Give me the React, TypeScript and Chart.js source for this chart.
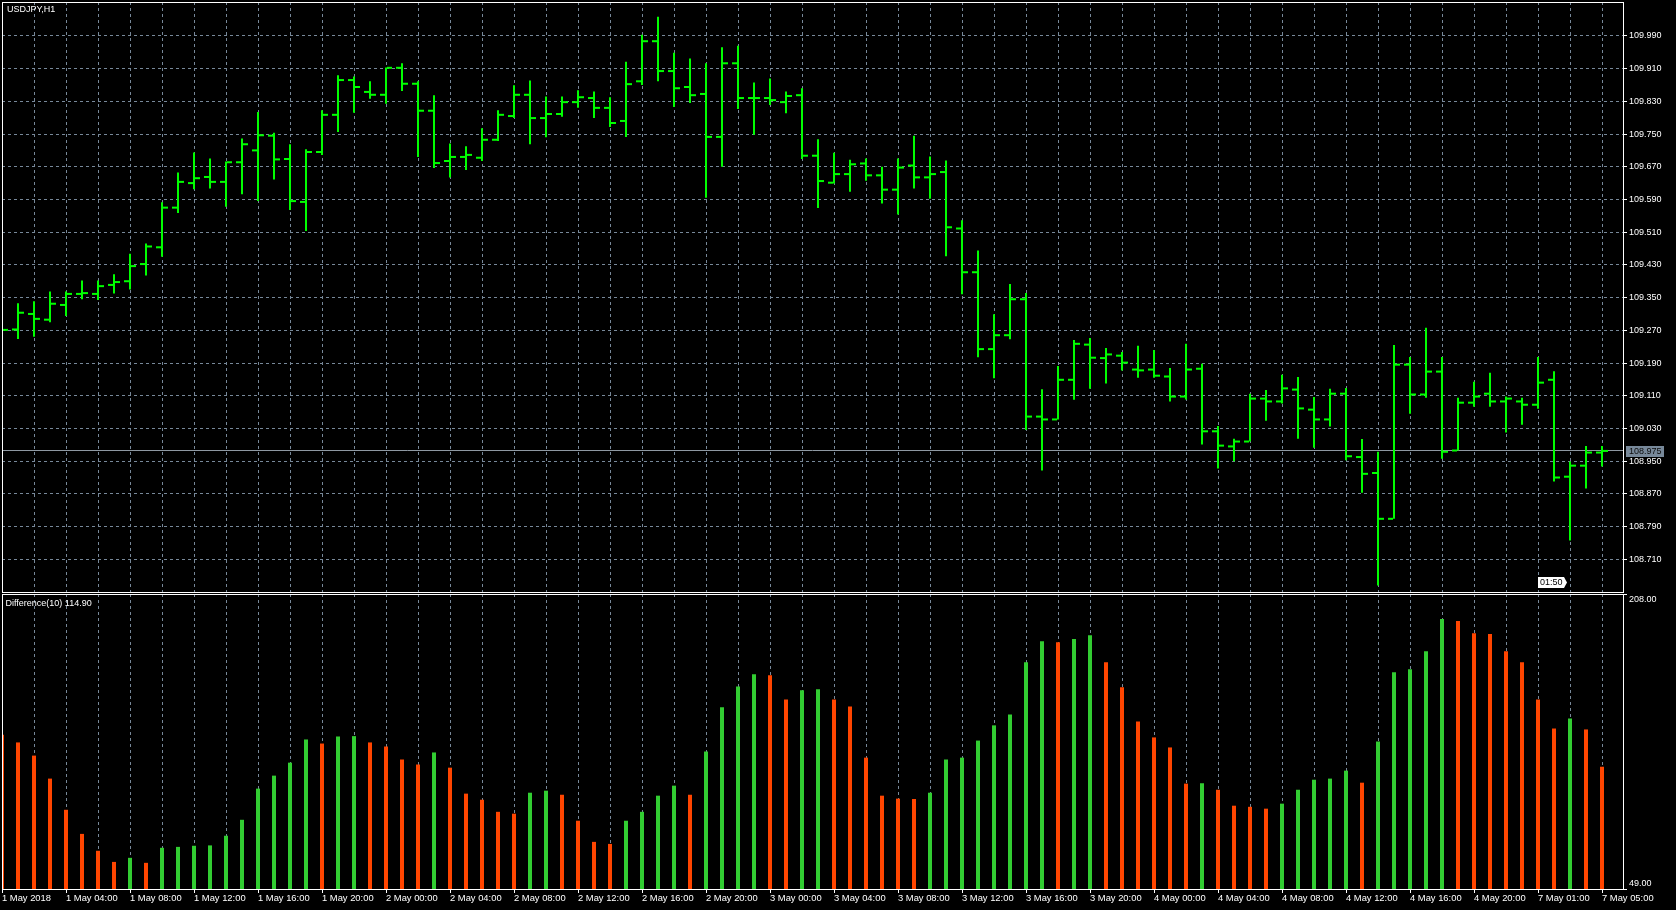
import React, { useEffect, useRef } from "react";
import { Chart, registerables } from "chart.js";

Chart.register(...registerables);

const symbolTitle = "USDJPY,H1";
const indicatorTitle = "Difference(10) 114.90";
const countdownText = "01:50";
const bidPrice = 108.975;

const opens = [
  109.262, 109.272, 109.31, 109.296, 109.332, 109.359, 109.359, 109.381, 109.39, 109.432,
  109.473, 109.57, 109.63, 109.645, 109.633, 109.681, 109.71, 109.746, 109.689, 109.584,
  109.706, 109.797, 109.882, 109.853, 109.846, 109.912, 109.873, 109.807, 109.684, 109.694,
  109.692, 109.736, 109.794, 109.846, 109.789, 109.799, 109.828, 109.838, 109.814, 109.782,
  109.879, 109.977, 109.904, 109.865, 109.848, 109.743, 109.923, 109.838, 109.838, 109.828,
  109.845, 109.697, 109.631, 109.652, 109.678, 109.649, 109.614, 109.673, 109.644, 109.657,
  109.519, 109.412, 109.224, 109.258, 109.346, 109.059, 109.052, 109.149, 109.235, 109.202,
  109.208, 109.174, 109.174, 109.157, 109.108, 109.176, 109.023, 108.986, 108.998, 109.103,
  109.096, 109.125, 109.076, 109.052, 109.115, 108.96, 108.921, 108.809, 109.186, 109.113,
  109.169, 108.976, 109.093, 109.115, 109.096, 109.096, 109.088, 109.149, 108.912, 108.939,
  108.971,
];
const highs = [
  109.285, 109.336, 109.341, 109.365, 109.365, 109.392, 109.392, 109.407, 109.457, 109.482,
  109.583, 109.656, 109.705, 109.69, 109.683, 109.739, 109.804, 109.753, 109.725, 109.713,
  109.808, 109.894, 109.891, 109.879, 109.913, 109.923, 109.879, 109.845, 109.727, 109.72,
  109.764, 109.808, 109.869, 109.881, 109.842, 109.842, 109.857, 109.854, 109.84, 109.927,
  109.993, 110.037, 109.949, 109.935, 109.923, 109.962, 109.966, 109.876, 109.886, 109.854,
  109.862, 109.737, 109.704, 109.687, 109.69, 109.67, 109.69, 109.746, 109.695, 109.685,
  109.539, 109.465, 109.309, 109.383, 109.361, 109.126, 109.183, 109.246, 109.251, 109.227,
  109.217, 109.232, 109.222, 109.178, 109.237, 109.188, 109.036, 109.005, 109.115, 109.124,
  109.161, 109.156, 109.107, 109.127, 109.129, 109.004, 108.973, 109.234, 109.205, 109.276,
  109.205, 109.105, 109.144, 109.166, 109.108, 109.105, 109.205, 109.17, 108.949, 108.987,
  108.987,
];
const lows = [
  109.255, 109.249, 109.254, 109.29, 109.305, 109.346, 109.344, 109.36, 109.37, 109.404,
  109.45, 109.557, 109.615, 109.617, 109.572, 109.603, 109.586, 109.639, 109.564, 109.513,
  109.699, 109.755, 109.802, 109.836, 109.824, 109.855, 109.694, 109.667, 109.644, 109.662,
  109.684, 109.733, 109.789, 109.725, 109.742, 109.792, 109.814, 109.789, 109.767, 109.743,
  109.87, 109.879, 109.816, 109.826, 109.594, 109.67, 109.811, 109.748, 109.821, 109.801,
  109.689, 109.569, 109.629, 109.609, 109.636, 109.58, 109.553, 109.617, 109.592, 109.451,
  109.358, 109.204, 109.153, 109.248, 109.026, 108.927, 109.052, 109.1, 109.127, 109.14,
  109.172, 109.154, 109.154, 109.096, 109.101, 108.991, 108.932, 108.95, 108.998, 109.049,
  109.091, 109.005, 108.983, 109.035, 108.952, 108.873, 108.646, 108.809, 109.066, 109.105,
  108.956, 108.976, 109.083, 109.083, 109.02, 109.039, 109.078, 108.9, 108.756, 108.883,
  108.937,
];
const closes = [
  109.271, 109.313, 109.298, 109.335, 109.359, 109.361, 109.378, 109.388, 109.427, 109.475,
  109.57, 109.633, 109.642, 109.633, 109.681, 109.725, 109.747, 109.688, 109.586, 109.706,
  109.797, 109.882, 109.865, 109.846, 109.912, 109.873, 109.807, 109.679, 109.694, 109.699,
  109.736, 109.797, 109.846, 109.789, 109.799, 109.828, 109.84, 109.814, 109.777, 109.872,
  109.977, 109.904, 109.862, 109.845, 109.743, 109.923, 109.838, 109.838, 109.833, 109.843,
  109.697, 109.635, 109.652, 109.676, 109.649, 109.614, 109.668, 109.644, 109.652, 109.522,
  109.412, 109.224, 109.258, 109.346, 109.059, 109.052, 109.149, 109.237, 109.203, 109.211,
  109.191, 109.172, 109.159, 109.108, 109.174, 109.023, 108.988, 108.998, 109.103, 109.096,
  109.128, 109.079, 109.052, 109.115, 108.962, 108.919, 108.809, 109.186, 109.113, 109.169,
  108.973, 109.093, 109.108, 109.096, 109.103, 109.088, 109.142, 108.91, 108.939, 108.971,
  108.975,
];

const diffValues = [
  132.1, 128.0, 120.9, 108.5, 91.7, 78.7, 69.6, 63.6, 65.8, 63.1,
  71.2, 71.7, 72.3, 72.5, 77.7, 86.3, 103.1, 110.1, 117.1, 129.6,
  127.4, 131.2, 131.4, 128.0, 125.8, 118.8, 116.1, 122.6, 114.4, 100.4,
  97.1, 90.6, 89.6, 100.9, 102.0, 99.8, 85.8, 74.4, 73.3, 85.8,
  90.6, 99.3, 104.7, 99.8, 123.1, 146.9, 158.2, 164.7, 164.2, 151.2,
  156.1, 156.6, 151.2, 147.4, 119.8, 99.3, 97.7, 97.5, 100.9, 118.8,
  119.8, 129.0, 137.2, 143.1, 171.2, 182.6, 182.0, 183.7, 185.8, 171.2,
  157.7, 139.3, 130.7, 125.3, 105.8, 106.0, 102.5, 93.9, 93.3, 92.3,
  95.0, 102.5, 107.9, 108.5, 112.8, 106.3, 128.5, 165.8, 167.4, 177.2,
  194.5, 193.4, 186.9, 186.4, 177.2, 171.2, 151.2, 135.5, 140.9, 135.0,
  114.9,
];

const timeLabels = [
  "1 May 2018", "1 May 04:00", "1 May 08:00", "1 May 12:00", "1 May 16:00", "1 May 20:00",
  "2 May 00:00", "2 May 04:00", "2 May 08:00", "2 May 12:00", "2 May 16:00", "2 May 20:00",
  "3 May 00:00", "3 May 04:00", "3 May 08:00", "3 May 12:00", "3 May 16:00", "3 May 20:00",
  "4 May 00:00", "4 May 04:00", "4 May 08:00", "4 May 12:00", "4 May 16:00", "4 May 20:00",
  "7 May 01:00", "7 May 05:00",
];

const priceTicks = [
  108.71, 108.79, 108.87, 108.95, 109.03, 109.11, 109.19, 109.27, 109.35,
  109.43, 109.51, 109.59, 109.67, 109.75, 109.83, 109.91, 109.99,
];
const diffTicks = [49, 208];

const PRICE_MIN = 108.63;
const PRICE_MAX = 110.0729;
const DIFF_MIN = 49;
const DIFF_MAX = 208;
const X_MIN = 0;
const X_MAX = 101.3125;
const LABEL_EVERY = 4;
const GRID_EVERY = 2;

const FONT = "'Liberation Sans', Arial, sans-serif";
const BAR_GREEN = "#00ff00";
const HIST_UP = "#32cd32";
const HIST_DOWN = "#ff4500";
const GRID = "#778899";
const TICK_HALF = 0.00245;

export default function App() {
  const topRef = useRef<HTMLCanvasElement>(null);
  const botRef = useRef<HTMLCanvasElement>(null);

  useEffect(() => {
    document.body.style.margin = "0";
    document.body.style.background = "#000";
    Chart.defaults.font.family = FONT;

    const idx = opens.map((_, i) => i);
    const gridValues = idx.filter((i) => i % GRID_EVERY === 0);

    const frameOf = (chart: any) => {
      const { ctx, chartArea: a } = chart;
      ctx.save();
      ctx.strokeStyle = "#ffffff";
      ctx.lineWidth = 1;
      ctx.strokeRect(a.left + 0.5, a.top + 0.5, a.right - a.left, a.bottom - a.top);
      ctx.restore();
    };

    const topOverlay = {
      id: "topOverlay",
      beforeDatasetsDraw(chart: any) {
        const { ctx, chartArea: a, scales } = chart;
        const yb = Math.floor(scales.y.getPixelForValue(bidPrice)) + 0.5;
        ctx.save();
        ctx.strokeStyle = "#8e98a2";
        ctx.lineWidth = 1;
        ctx.beginPath();
        ctx.moveTo(a.left, yb);
        ctx.lineTo(a.right, yb);
        ctx.stroke();
        ctx.restore();
      },
      afterDraw(chart: any) {
        const { ctx, chartArea: a, scales } = chart;
        frameOf(chart);
        ctx.save();
        ctx.font = `9px ${FONT}`;
        ctx.textBaseline = "middle";
        ctx.fillStyle = "#ffffff";
        ctx.fillText(symbolTitle, a.left + 5, a.top + 7.5);
        // bid label
        const yb = scales.y.getPixelForValue(bidPrice);
        ctx.fillStyle = "#778899";
        ctx.fillRect(a.right + 3, Math.round(yb) - 5, 38, 11);
        ctx.fillStyle = "#0c0c0c";
        ctx.fillText(bidPrice.toFixed(3), a.right + 6, Math.round(yb) + 0.5);
        // countdown
        const bx = a.right - 85;
        const by = a.bottom - 15;
        ctx.fillStyle = "#ffffff";
        ctx.beginPath();
        ctx.moveTo(bx, by);
        ctx.lineTo(bx + 26, by);
        ctx.lineTo(bx + 29, by + 5.5);
        ctx.lineTo(bx + 26, by + 11);
        ctx.lineTo(bx, by + 11);
        ctx.closePath();
        ctx.fill();
        ctx.fillStyle = "#000000";
        ctx.fillText(countdownText, bx + 2, by + 6);
        ctx.restore();
      },
    };

    const botOverlay = {
      id: "botOverlay",
      afterDraw(chart: any) {
        const { ctx, chartArea: a, scales } = chart;
        frameOf(chart);
        ctx.save();
        ctx.font = `9px ${FONT}`;
        ctx.textBaseline = "middle";
        ctx.fillStyle = "#ffffff";
        ctx.fillText(indicatorTitle, a.left + 3.5, a.top + 9.5);
        const yTop = scales.y.getPixelForValue(DIFF_MAX);
        const yBot = scales.y.getPixelForValue(DIFF_MIN);
        ctx.fillText(DIFF_MAX.toFixed(2), a.right + 6, yTop + 5.3);
        ctx.fillText(DIFF_MIN.toFixed(2), a.right + 6, yBot - 5.3);
        ctx.restore();
      },
    };

    const ohlcCommon = {
      backgroundColor: BAR_GREEN,
      borderWidth: 0,
      inflateAmount: 0,
      categoryPercentage: 0.65625,
    };

    const top = new Chart(topRef.current as HTMLCanvasElement, {
      type: "bar",
      data: {
        datasets: [
          {
            ...ohlcCommon,
            label: "Open",
            barPercentage: 5 / 3.5,
            data: idx.map((i) => ({ x: i, y: [opens[i] - TICK_HALF, opens[i] + TICK_HALF] })),
          },
          {
            ...ohlcCommon,
            label: "High-Low",
            barPercentage: 2 / 3.5,
            data: idx.map((i) => ({ x: i, y: [lows[i], highs[i]] })),
          },
          {
            ...ohlcCommon,
            label: "Close",
            barPercentage: 5 / 3.5,
            data: idx.map((i) => ({ x: i, y: [closes[i] - TICK_HALF, closes[i] + TICK_HALF] })),
          },
        ] as any,
      },
      options: {
        responsive: false,
        animation: false,
        devicePixelRatio: 1,
        events: [],
        layout: { padding: { left: 2, top: 2, right: 0, bottom: 2 } },
        plugins: { legend: { display: false }, tooltip: { enabled: false } },
        scales: {
          x: {
            type: "linear",
            min: X_MIN,
            max: X_MAX,
            offset: false,
            stacked: false,
            afterBuildTicks: (s: any) => {
              s.ticks = gridValues.map((v) => ({ value: v }));
            },
            afterFit: (s: any) => {
              s.height = 0;
              s.paddingLeft = 0;
              s.paddingRight = 0;
            },
            ticks: { display: false },
            grid: { color: GRID, lineWidth: 1, drawTicks: false, offset: false },
            border: { display: false, dash: [3, 3] },
          },
          y: {
            position: "right",
            min: PRICE_MIN,
            max: PRICE_MAX,
            afterBuildTicks: (s: any) => {
              s.ticks = priceTicks.map((v) => ({ value: v }));
            },
            afterFit: (s: any) => {
              s.width = 53;
              s.paddingTop = 0;
              s.paddingBottom = 0;
            },
            ticks: {
              color: "#ffffff",
              font: { size: 9, family: FONT },
              padding: 2,
              callback: (v: any) => Number(v).toFixed(3),
            },
            grid: {
              color: GRID,
              lineWidth: 1,
              drawTicks: true,
              tickLength: 4,
              tickColor: "#ffffff",
              tickWidth: 1,
            },
            border: { display: false, dash: [3, 3] },
          },
        },
      } as any,
      plugins: [topOverlay],
    });

    const bot = new Chart(botRef.current as HTMLCanvasElement, {
      type: "bar",
      data: {
        datasets: [
          {
            label: "Difference(10)",
            data: idx.map((i) => ({ x: i, y: diffValues[i] })),
            backgroundColor: idx.map((i) =>
              i > 0 && diffValues[i] >= diffValues[i - 1] ? HIST_UP : HIST_DOWN
            ),
            borderWidth: 0,
            inflateAmount: 0,
            barThickness: 4,
          },
        ] as any,
      },
      options: {
        responsive: false,
        animation: false,
        devicePixelRatio: 1,
        events: [],
        layout: { padding: { left: 2, top: 2, right: 0, bottom: 0 } },
        plugins: { legend: { display: false }, tooltip: { enabled: false } },
        scales: {
          x: {
            type: "linear",
            min: X_MIN,
            max: X_MAX,
            offset: false,
            stacked: false,
            afterBuildTicks: (s: any) => {
              s.ticks = gridValues.map((v) => ({ value: v }));
            },
            afterFit: (s: any) => {
              s.height = 21;
              s.paddingLeft = 0;
              s.paddingRight = 0;
            },
            ticks: {
              color: "#ffffff",
              font: { size: 9.4, family: FONT },
              padding: 0,
              align: "start",
              autoSkip: false,
              maxRotation: 0,
              minRotation: 0,
              callback: (v: any) =>
                Number(v) % LABEL_EVERY === 0 ? timeLabels[Number(v) / LABEL_EVERY] : "",
            },
            grid: {
              color: GRID,
              lineWidth: 1,
              drawTicks: true,
              tickLength: 4,
              tickWidth: 1,
              tickColor: (c: any) =>
                c.tick && c.tick.value % LABEL_EVERY === 0 ? "#ffffff" : "rgba(0,0,0,0)",
              offset: false,
            },
            border: { display: false, dash: [3, 3] },
          },
          y: {
            position: "right",
            min: DIFF_MIN,
            max: DIFF_MAX,
            afterBuildTicks: (s: any) => {
              s.ticks = diffTicks.map((v) => ({ value: v }));
            },
            afterFit: (s: any) => {
              s.width = 53;
              s.paddingTop = 0;
              s.paddingBottom = 0;
            },
            ticks: { display: false },
            grid: {
              drawOnChartArea: false,
              drawTicks: true,
              tickLength: 4,
              tickColor: "#ffffff",
              tickWidth: 1,
            },
            border: { display: false },
          },
        },
      } as any,
      plugins: [botOverlay],
    });

    return () => {
      top.destroy();
      bot.destroy();
    };
  }, []);

  return (
    <div
      style={{
        position: "fixed",
        left: 0,
        top: 0,
        width: 1676,
        height: 910,
        background: "#000000",
        overflow: "hidden",
      }}
    >
      <canvas
        ref={topRef}
        width={1676}
        height={594}
        style={{ position: "absolute", left: 0, top: 0, width: 1676, height: 594 }}
      />
      <canvas
        ref={botRef}
        width={1676}
        height={318}
        style={{ position: "absolute", left: 0, top: 592, width: 1676, height: 318 }}
      />
    </div>
  );
}
